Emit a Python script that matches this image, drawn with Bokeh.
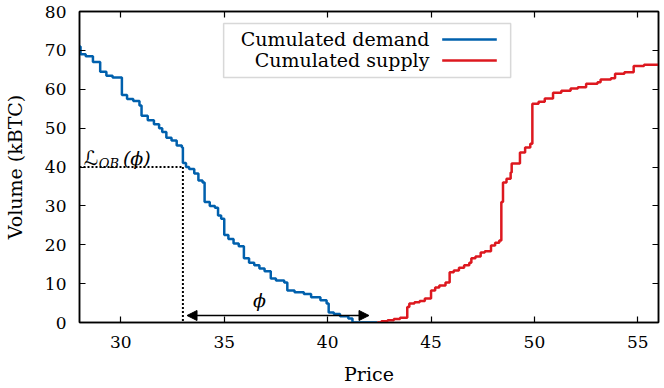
from bokeh.plotting import figure
from bokeh.models import (LinearAxis, FixedTicker, Label, BoxAnnotation, Arrow,
                          NormalHead, Range1d)
from bokeh.embed import file_html
from bokeh.resources import INLINE

# ---- data ----
demand_price = [28.00, 28.05, 28.30, 28.65, 29.00, 29.30, 29.60, 30.05, 30.30, 30.60,
                30.90, 31.00, 31.30, 31.60, 31.85, 32.00, 32.20, 32.45, 32.70, 32.95,
                33.00, 33.15, 33.30, 33.55, 33.75, 33.95, 34.05, 34.30, 34.55, 34.70,
                34.85, 35.00, 35.20, 35.45, 35.70, 35.95, 36.20, 36.45, 36.70, 36.95,
                37.25, 37.50, 37.90, 38.05, 38.40, 38.85, 39.20, 39.65, 39.95, 40.05,
                40.30, 40.60, 41.00, 41.20, 42.40]
demand_volume = [71.0, 69.0, 68.5, 67.0, 64.5, 63.5, 63.0, 58.5, 57.5, 57.0,
                 55.8, 53.2, 52.0, 51.0, 50.0, 49.0, 47.5, 46.8, 45.5, 45.0,
                 41.0, 40.0, 39.5, 38.3, 36.5, 36.0, 31.0, 30.0, 29.5, 27.5,
                 26.7, 22.5, 21.5, 20.3, 19.6, 16.5, 15.4, 14.7, 13.9, 13.2,
                 11.3, 10.8, 10.3, 8.2, 7.8, 7.3, 6.5, 5.7, 4.9, 2.6,
                 2.2, 1.6, 1.0, 0.0, 0.0]

supply_price = [42.40, 42.60, 42.90, 43.20, 43.50, 43.85, 43.95, 44.20, 44.45, 44.70,
                45.00, 45.20, 45.40, 45.70, 45.90, 46.10, 46.35, 46.60, 46.85, 46.95,
                47.15, 47.40, 47.60, 47.90, 48.10, 48.30, 48.40, 48.48, 48.65, 48.85,
                48.90, 49.30, 49.55, 49.80, 49.90, 50.20, 50.50, 50.90, 51.30, 51.75,
                52.10, 52.50, 53.05, 53.20, 53.70, 53.90, 54.35, 54.80, 55.30, 56.00]
supply_volume = [0.0, 0.3, 0.6, 0.9, 1.2, 4.0, 4.9, 5.2, 5.5, 6.2,
                 8.2, 9.0, 9.5, 10.3, 12.9, 13.4, 14.1, 14.7, 15.4, 16.5,
                 17.0, 18.0, 18.3, 19.8, 20.5, 21.1, 31.0, 36.0, 37.0, 38.6,
                 40.9, 43.7, 45.0, 46.0, 56.3, 56.8, 57.6, 59.1, 59.6, 60.2,
                 60.5, 61.4, 61.8, 62.5, 62.8, 64.0, 64.4, 66.0, 66.3, 66.3]

x_ticks = [30, 35, 40, 45, 50, 55]
y_ticks = [0, 10, 20, 30, 40, 50, 60, 70, 80]
series_labels = ["Cumulated demand", "Cumulated supply"]

phi_price = 33.0        # price where L_OB(phi) is read
lob_volume = 40.0       # L_OB(phi)
phi_arrow_start = 33.2
phi_arrow_end = 42.0
phi_arrow_level = 1.8

BLUE = "#0060ad"
RED = "#dd181f"
FONT = "DejaVu Serif"

p = figure(width=664, height=388, output_backend="svg", toolbar_location=None,
           x_range=Range1d(28, 56), y_range=Range1d(0, 80),
           min_border_left=77, min_border_right=6, min_border_top=11,
           min_border_bottom=66, x_axis_label="Price", y_axis_label="Volume (kBTC)")
p.grid.visible = False
p.outline_line_color = "black"
p.outline_line_width = 1.5
p.background_fill_color = "white"
p.border_fill_color = "white"

for ax, ticks in ((p.xaxis[0], x_ticks), (p.yaxis[0], y_ticks)):
    ax.ticker = FixedTicker(ticks=ticks)
    ax.major_tick_in = 6
    ax.major_tick_out = 0
    ax.minor_tick_line_color = None
    ax.axis_line_width = 1.5
    ax.major_tick_line_width = 1.2
    ax.major_label_text_font = FONT
    ax.major_label_text_font_size = "17px"
    ax.major_label_text_color = "black"
    ax.axis_label_text_font = FONT
    ax.axis_label_text_font_size = "19px"
    ax.axis_label_text_font_style = "normal"
    ax.axis_label_text_color = "black"

p.xaxis[0].major_label_standoff = 13
p.yaxis[0].major_label_standoff = 13
p.xaxis[0].axis_label_standoff = 12
p.yaxis[0].axis_label_standoff = 16

# mirrored ticks (no labels)
top_ax = LinearAxis(ticker=FixedTicker(ticks=x_ticks),
                    major_label_overrides={t: "" for t in x_ticks},
                    major_tick_in=6, major_tick_out=0, minor_tick_line_color=None,
                    axis_line_width=1.5, major_tick_line_width=1.2, major_label_standoff=0)
right_ax = LinearAxis(ticker=FixedTicker(ticks=y_ticks),
                      major_label_overrides={t: "" for t in y_ticks},
                      major_tick_in=6, major_tick_out=0, minor_tick_line_color=None,
                      axis_line_width=1.5, major_tick_line_width=1.2, major_label_standoff=0)
p.add_layout(top_ax, "above")
p.add_layout(right_ax, "right")

# curves
p.step(demand_price, demand_volume, mode="after", line_color=BLUE, line_width=2.5)
p.step(supply_price, supply_volume, mode="after", line_color=RED, line_width=2.5)

# dotted guides
p.segment(x0=[p.x_range.start, phi_price], y0=[lob_volume, lob_volume],
          x1=[phi_price, phi_price], y1=[lob_volume, 0],
          line_color="black", line_width=2, line_dash="2 2")

# phi arrow
p.add_layout(Arrow(start=NormalHead(size=10, fill_color="black", line_color="black"),
                   end=NormalHead(size=10, fill_color="black", line_color="black"),
                   x_start=phi_arrow_start, y_start=phi_arrow_level,
                   x_end=phi_arrow_end, y_end=phi_arrow_level,
                   line_color="black", line_width=1.5))
p.add_layout(Label(x=(phi_arrow_start + phi_arrow_end) / 2 - 0.9, y=phi_arrow_level + 1.2,
                   text="ϕ", text_font=FONT, text_font_style="italic", text_color="black",
                   text_font_size="19px", text_align="center", text_baseline="bottom"))

# L_OB(phi)
p.add_layout(Label(x=28.2, y=42.4, text="ℒ", text_font="DejaVu Sans", text_color="black",
                   text_font_size="20px", text_baseline="alphabetic"))
p.add_layout(Label(x=28.93, y=40.9, text="OB", text_font=FONT, text_font_style="italic",
                   text_color="black", text_font_size="13px", text_baseline="alphabetic"))
p.add_layout(Label(x=30.1, y=42.4, text="(ϕ)", text_font=FONT, text_font_style="italic",
                   text_color="black", text_font_size="19px", text_baseline="alphabetic"))

# legend (text on left, sample line on right)
p.add_layout(BoxAnnotation(left=34.97, right=48.85, bottom=63.0, top=76.9,
                           fill_color=None, fill_alpha=0,
                           line_color="#7f7f7f", line_width=1.5))
legend_rows = [72.8, 67.4]
for lbl, yy in zip(series_labels, legend_rows):
    p.add_layout(Label(x=44.92, y=yy, text=lbl, text_font=FONT, text_font_size="19px",
                       text_color="black", text_align="right", text_baseline="middle"))
p.segment(x0=[45.54, 45.54], y0=legend_rows, x1=[48.18, 48.18], y1=legend_rows,
          line_color=[BLUE, RED], line_width=2.5)

open("out.html", "w").write(file_html(p, INLINE))
